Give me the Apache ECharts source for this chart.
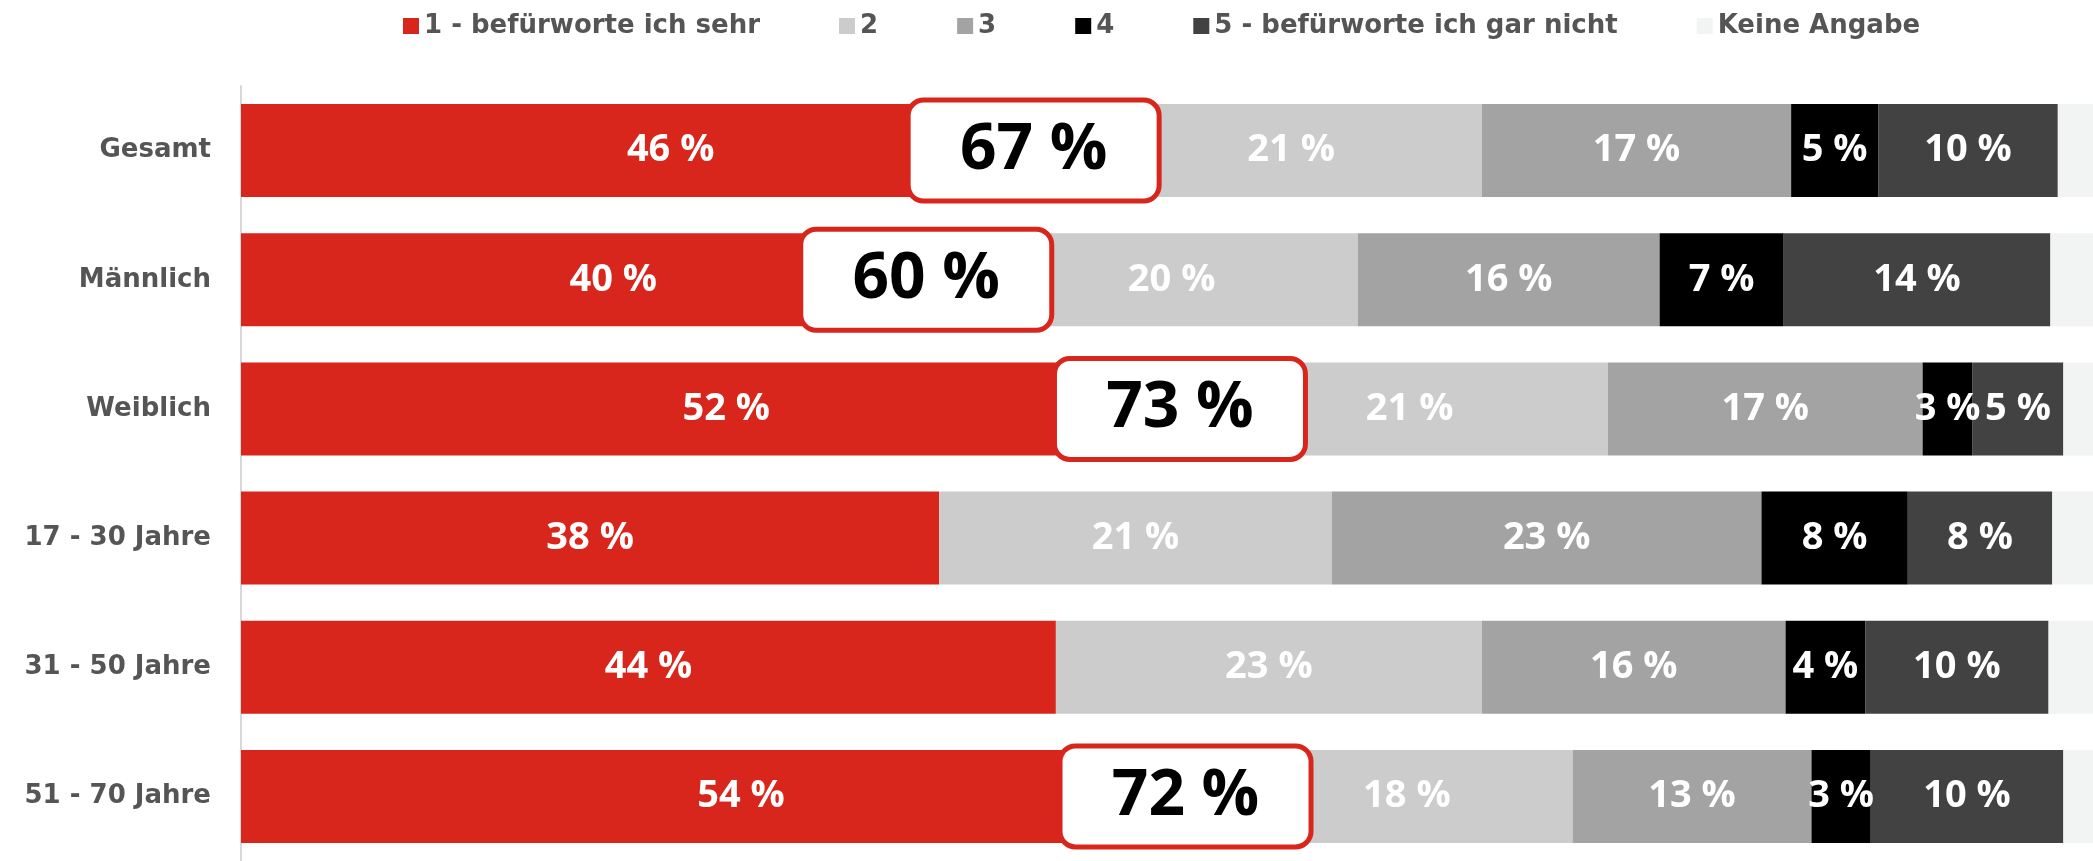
<!DOCTYPE html>
<html>
<head>
<meta charset="utf-8">
<script src="https://cdn.jsdelivr.net/npm/echarts@6/dist/echarts.min.js"></script>
<style>
  html, body { margin: 0; padding: 0; background: #fff; }
  #chart { width: 2093px; height: 861px; }
</style>
</head>
<body>
<div id="chart"></div>
<script>
// Zustimmung nach Gruppe (Anteile in %)
const categories = ['Gesamt', 'Männlich', 'Weiblich', '17 - 30 Jahre', '31 - 50 Jahre', '51 - 70 Jahre'];
const seriesNames = ['1 - befürworte ich sehr', '2', '3', '4', '5 - befürworte ich gar nicht', 'Keine Angabe'];

const sehr        = [46.4, 40.2, 52.4, 37.7, 44.0, 54.0];
const zwei        = [20.6, 20.1, 21.4, 21.2, 23.0, 17.9];
const drei        = [16.7, 16.3, 17.0, 23.2, 16.4, 12.9];
const vier        = [4.7, 6.7, 2.7, 7.9, 4.3, 3.2];
const garNicht    = [9.7, 14.4, 4.9, 7.8, 9.9, 10.4];
const keineAngabe = [1.9, 2.3, 1.6, 2.2, 2.4, 1.6];

// Summe "1" + "2" als Kasten
const calloutRows = ['Gesamt', 'Männlich', 'Weiblich', '51 - 70 Jahre'];
const calloutValues = [67, 60, 73, 72];
const calloutAt = [42.8, 37.0, 50.7, 51.0];

const colors = ['#d9261c', '#cccccc', '#a3a3a3', '#000000', '#424242', '#f2f3f3'];
const values = [sehr, zwei, drei, vier, garNicht, keineAngabe];

const chart = echarts.init(document.getElementById('chart'));

const barSeries = seriesNames.map(function (name, i) {
  return {
    name: name,
    type: 'bar',
    stack: 'total',
    barCategoryGap: '28%',
    itemStyle: { color: colors[i] },
    label: {
      show: i < 5,
      position: 'inside',
      color: '#fff',
      fontFamily: 'Open Sans',
      fontWeight: 'bold',
      fontSize: 38,
      formatter: function (p) { return Math.round(p.value) + ' %'; }
    },
    emphasis: { disabled: true },
    data: values[i]
  };
});

const option = {
  animation: false,
  color: colors,
  legend: {
    data: seriesNames,
    left: 398,
    top: 8,
    icon: 'rect',
    itemWidth: 16,
    itemHeight: 16,
    itemGap: 79,
    textStyle: {
      fontFamily: 'DejaVu Sans',
      fontWeight: 'bold',
      fontSize: 26,
      color: '#555'
    }
  },
  grid: {
    left: 241,
    right: 0,
    top: 86,
    height: 780
  },
  xAxis: {
    type: 'value',
    min: 0,
    max: 100,
    show: false
  },
  yAxis: {
    type: 'category',
    inverse: true,
    data: categories,
    axisTick: { show: false },
    axisLine: { show: true, lineStyle: { color: '#d9d9d9', width: 2 } },
    axisLabel: {
      margin: 30,
      fontFamily: 'DejaVu Sans',
      fontWeight: 'bold',
      fontSize: 26,
      color: '#555'
    }
  },
  series: barSeries.concat([{
    type: 'scatter',
    z: 10,
    symbolSize: 1,
    itemStyle: { color: 'rgba(0,0,0,0)', opacity: 1 },
    silent: true,
    label: {
      show: true,
      position: 'inside',
      opacity: 1,
      formatter: function (p) { return p.value[2] + ' %'; },
      width: 246,
      height: 96,
      lineHeight: 96,
      align: 'center',
      verticalAlign: 'middle',
      backgroundColor: '#fff',
      borderColor: '#d9261c',
      borderWidth: 5,
      borderRadius: 13,
      color: '#000',
      fontFamily: 'Open Sans',
      fontWeight: 'bold',
      fontSize: 64
    },
    data: calloutRows.map(function (row, i) {
      return [calloutAt[i], row, calloutValues[i]];
    })
  }])
};

chart.setOption(option);
window.addEventListener('resize', function () {
  chart.resize();
});
</script>
</body>
</html>
